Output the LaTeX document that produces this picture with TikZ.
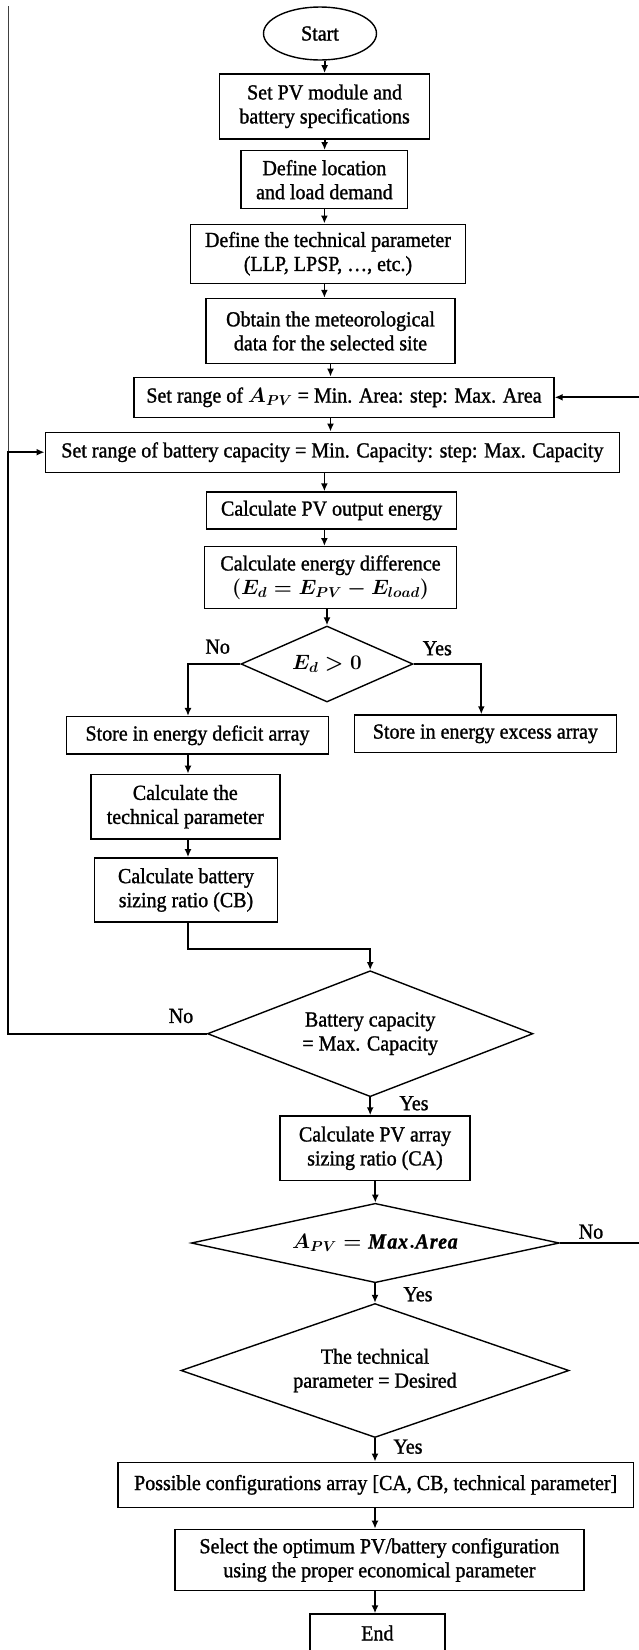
\documentclass[tikz,border=0pt]{standalone}
\usepackage{fontspec}
\setmainfont[FakeStretch=0.93,FakeBold=1.2]{Liberation Serif}
\usetikzlibrary{shapes.geometric,arrows.meta}
\begin{document}
\begin{tikzpicture}[x=1pt,y=-1pt,
  every node/.style={font=\fontsize{21.5}{24}\selectfont\boldmath, inner sep=0pt, align=center},
  box/.style={draw, line width=1.4pt, rectangle},
  dia/.style={draw, line width=1.4pt, diamond},
  arr/.style={-{Latex[length=8pt,width=7pt]}, line width=1.8pt},
  thk/.style={line width=2.3pt}]
\useasboundingbox (0,0) rectangle (638,1650);

% nodes
\node[draw, ellipse, line width=1.4pt, minimum width=113pt, minimum height=53pt] (start) at (320,33.5) {Start};
\node[box, minimum width=210pt, minimum height=65pt] (b1) at (324.6,106.3) {Set PV module and\\battery specifications};
\node[box, minimum width=166.6pt, minimum height=58pt] (b2) at (324.4,179.7) {Define location\\and load demand};
\node[box, minimum width=275pt, minimum height=59pt] (b3) at (328,253.7) {Define the technical parameter\\(LLP, LPSP, …, etc.)};
\node[box, minimum width=249pt, minimum height=65pt] (b4) at (330.5,331) {Obtain the meteorological\\data for the selected site};
\node[box, minimum width=420pt, minimum height=40pt] (b5) at (344,397.3) {Set range of $A_{PV}$ = Min. Area: step: Max. Area};
\node[box, minimum width=574.4pt, minimum height=40pt] (b6) at (332.4,452.2) {Set range of battery capacity = Min. Capacity: step: Max. Capacity};
\node[box, minimum width=250pt, minimum height=37pt] (b7) at (331.6,510.5) {Calculate PV output energy};
\node[box, minimum width=252pt, minimum height=61.6pt] (b8) at (330.5,577.5) {Calculate energy difference\\$(E_d = E_{PV} - E_{load})$};
\node[dia, minimum width=172pt, minimum height=76pt, aspect=2.26] (d1) at (327,664) {$E_d > 0$};
\node[box, minimum width=262.4pt, minimum height=37.3pt] (def) at (197.5,735.3) {Store in energy deficit array};
\node[box, minimum width=262pt, minimum height=37.7pt] (exc) at (485.4,733.8) {Store in energy excess array};
\node[box, minimum width=189pt, minimum height=64.7pt] (tp) at (185.3,806.7) {Calculate the\\technical parameter};
\node[box, minimum width=183pt, minimum height=64.3pt] (cb) at (186,890) {Calculate battery\\sizing ratio (CB)};
\node[dia, minimum width=325.5pt, minimum height=126pt, aspect=2.58] (d2) at (370.2,1033.7) {Battery capacity\\= Max. Capacity};
\node[box, minimum width=190pt, minimum height=64.7pt] (ca) at (375,1148.3) {Calculate PV array\\sizing ratio (CA)};
\node[dia, minimum width=368pt, minimum height=79.4pt, aspect=4.63] (d3) at (375.3,1243) {$A_{PV} = \mathit{Max.Area}$};
\node[dia, minimum width=388pt, minimum height=134pt, aspect=2.9] (d4) at (375,1370.5) {The technical\\parameter = Desired};
\node[box, minimum width=515.4pt, minimum height=45pt] (poss) at (375.7,1484.8) {Possible configurations array [CA, CB, technical parameter]};
\node[box, minimum width=409pt, minimum height=61.3pt] (sel) at (379.4,1560) {Select the optimum PV/battery configuration\\using the proper economical parameter};
\node[box, minimum width=135pt, minimum height=38pt] (end) at (377.4,1633) {End};

% labels
\node (n1) at (217.7,646.7) {No};
\node (y1) at (437.3,648.3) {Yes};
\node (n2) at (181,1016) {No};
\node (y2) at (414,1103.3) {Yes};
\node (n3) at (591,1231.7) {No};
\node (y3) at (418,1294.3) {Yes};
\node (y4) at (408,1446.7) {Yes};

% helper coordinates
\coordinate (L) at (8,0);
\coordinate (Ltop) at (8,6);
\coordinate (R) at (642,0);
\coordinate (NL) at (188,0);
\coordinate (YR) at (481.3,0);
\coordinate (J) at (188,949.3);

% main column
\draw[arr] (b1.north |- start.south) -- (b1.north);
\draw[arr] (b1.south) -- (b1.south |- b2.north);
\draw[arr] (b2.south) -- (b2.south |- b3.north);
\draw[arr] (b3.south -| b2.south) -- (b4.north -| b2.south);
\draw[arr] (b4.south) -- (b4.south |- b5.north);
\draw[arr] (b5.south -| b4.south) -- (b6.north -| b4.south);
\draw[arr] (b6.south -| b2.south) -- (b7.north -| b2.south);
\draw[arr] (b7.south -| b2.south) -- (b8.north -| b2.south);
\draw[arr] (d1.north |- b8.south) -- (d1.north);

% branches of d1
\draw[arr, thk] (d1.west) -- (d1.west -| NL) -- (def.north -| NL);
\draw[arr, thk] (d1.east) -- (d1.east -| YR) -- (exc.north -| YR);
\draw[arr] (def.south -| NL) -- (tp.north -| NL);
\draw[arr] (tp.south -| NL) -- (cb.north -| NL);
\draw[arr, thk] (cb.south -| NL) -- (J) -| (d2.north);

% lower column
\draw[arr] (d2.south) -- (d2.south |- ca.north);
\draw[arr] (d3.north |- ca.south) -- (d3.north);
\draw[arr] (d4.north |- d3.south) -- (d4.north);
\draw[arr] (d4.south) -- (d4.south |- poss.north);
\draw[arr] (poss.south -| d4.south) -- (sel.north -| d4.south);
\draw[arr] (sel.south -| d4.south) -- (end.north -| d4.south);

% loops
\draw[line width=0.8pt, black!75] (Ltop) -- (b6.west -| L);
\draw[arr, thk] (d2.west) -- (d2.west -| L) -- (b6.west -| L) -- (b6.west);
\draw[thk] (d3.east) -- (d3.east -| R);
\draw[arr, thk] (b5.east -| R) -- (b5.east);
\end{tikzpicture}
\end{document}
